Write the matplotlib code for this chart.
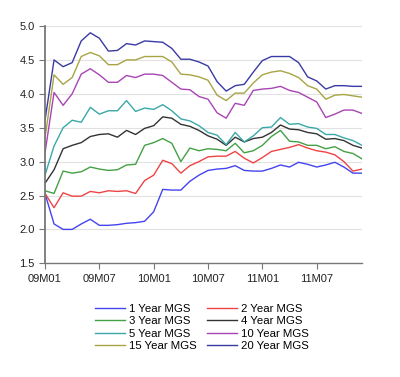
import matplotlib
matplotlib.use("Agg")
import matplotlib.pyplot as plt
import numpy as np

plt.rcParams['font.family'] = ['Liberation Sans', 'DejaVu Sans']

# monthly yields, 09M01 .. 11M12
yr1 = [2.53, 2.08, 2.00, 2.00, 2.08, 2.15, 2.06, 2.06, 2.07, 2.09, 2.10, 2.12,
       2.26, 2.59, 2.58, 2.58, 2.71, 2.80, 2.87, 2.89, 2.90, 2.94, 2.87, 2.86,
       2.86, 2.90, 2.95, 2.92, 2.99, 2.96, 2.92, 2.95, 2.99, 2.92, 2.83, 2.83]
yr2 = [2.53, 2.32, 2.54, 2.49, 2.49, 2.56, 2.54, 2.57, 2.56, 2.57, 2.53, 2.72,
       2.80, 3.02, 2.97, 2.83, 2.94, 3.00, 3.07, 3.08, 3.08, 3.15, 3.05, 2.98,
       3.06, 3.15, 3.18, 3.21, 3.25, 3.20, 3.16, 3.14, 3.10, 3.00, 2.86, 2.89]
yr3 = [2.57, 2.53, 2.86, 2.83, 2.85, 2.92, 2.89, 2.87, 2.88, 2.95, 2.96, 3.24,
       3.28, 3.34, 3.27, 3.00, 3.20, 3.16, 3.19, 3.18, 3.16, 3.27, 3.13, 3.16,
       3.24, 3.37, 3.46, 3.30, 3.29, 3.24, 3.24, 3.19, 3.22, 3.15, 3.12, 3.04]
yr4 = [2.68, 2.88, 3.19, 3.24, 3.28, 3.37, 3.40, 3.41, 3.36, 3.46, 3.40, 3.49,
       3.53, 3.66, 3.64, 3.55, 3.52, 3.46, 3.38, 3.33, 3.24, 3.36, 3.29, 3.34,
       3.36, 3.43, 3.54, 3.48, 3.47, 3.43, 3.41, 3.33, 3.34, 3.31, 3.24, 3.20]
yr5 = [2.80, 3.23, 3.50, 3.61, 3.58, 3.80, 3.70, 3.75, 3.75, 3.90, 3.74, 3.79,
       3.77, 3.84, 3.75, 3.63, 3.60, 3.53, 3.43, 3.39, 3.25, 3.43, 3.29, 3.38,
       3.50, 3.51, 3.65, 3.55, 3.56, 3.51, 3.49, 3.40, 3.40, 3.35, 3.31, 3.24]
yr10 = [3.13, 4.02, 3.83, 4.00, 4.29, 4.37, 4.28, 4.17, 4.17, 4.27, 4.24, 4.29,
        4.29, 4.27, 4.17, 4.07, 4.06, 3.96, 3.92, 3.72, 3.64, 3.86, 3.83, 4.05,
        4.07, 4.08, 4.11, 4.05, 4.02, 3.95, 3.88, 3.65, 3.70, 3.76, 3.76, 3.71]
yr15 = [3.35, 4.28, 4.14, 4.24, 4.55, 4.61, 4.56, 4.43, 4.43, 4.50, 4.50, 4.55,
        4.55, 4.55, 4.47, 4.29, 4.28, 4.25, 4.20, 3.98, 3.90, 4.01, 4.01, 4.16,
        4.28, 4.32, 4.34, 4.30, 4.24, 4.12, 4.07, 3.92, 3.98, 3.99, 3.97, 3.95]
yr20 = [3.61, 4.50, 4.40, 4.46, 4.78, 4.90, 4.82, 4.63, 4.64, 4.74, 4.72, 4.78,
        4.77, 4.76, 4.67, 4.51, 4.51, 4.47, 4.41, 4.18, 4.04, 4.12, 4.14, 4.32,
        4.49, 4.55, 4.55, 4.55, 4.46, 4.25, 4.19, 4.07, 4.12, 4.12, 4.11, 4.11]

names = ['1 Year MGS', '2 Year MGS', '3 Year MGS', '4 Year MGS',
         '5 Year MGS', '10 Year MGS', '15 Year MGS', '20 Year MGS']
colors = ['#4444ee', '#ee4444', '#44a044', '#333333',
          '#3aa8a8', '#a844b4', '#a8a444', '#3a3aa4']
tick_labels = ['09M01', '09M07', '10M01', '10M07', '11M01', '11M07']

series = [yr1, yr2, yr3, yr4, yr5, yr10, yr15, yr20]
x = np.arange(len(yr1))

fig = plt.figure(figsize=(4.0, 3.77), dpi=100)
ax = fig.add_axes([0.1125, 0.3016, 0.7925, 0.6294])

lines = []
for s, n, c in zip(series, names, colors):
    ln, = ax.plot(x, s, color=c, lw=1.0, label=n)
    lines.append(ln)

ax.set_xlim(0, 35)
ax.set_ylim(1.5, 5.0)
ax.set_yticks(np.arange(1.5, 5.01, 0.5))
ax.set_yticklabels(['%.1f' % v for v in np.arange(1.5, 5.01, 0.5)])
ax.set_xticks(np.arange(0, 31, 6))
ax.set_xticklabels(tick_labels)
ax.yaxis.grid(True, color='#e2e2e2', lw=0.8)
ax.set_axisbelow(True)
for side in ['top', 'right']:
    ax.spines[side].set_visible(False)
ax.spines['left'].set_color('#777777')
ax.spines['left'].set_linewidth(1.3)
ax.spines['bottom'].set_color('#777777')
ax.spines['bottom'].set_linewidth(1.0)
ax.tick_params(colors='#777777', labelcolor='#222222', labelsize=8,
               length=4, width=0.8)

# legend filled row by row, like the original
order = [0, 2, 4, 6, 1, 3, 5, 7]
fig.legend([lines[i] for i in order], [names[i] for i in order],
           loc='upper center', bbox_to_anchor=(0.505, 0.222), ncol=2,
           frameon=False, fontsize=8.2, handlelength=2.6, handletextpad=0.4,
           columnspacing=0.9, labelspacing=0.22)

fig.savefig('out.png', dpi=100)
